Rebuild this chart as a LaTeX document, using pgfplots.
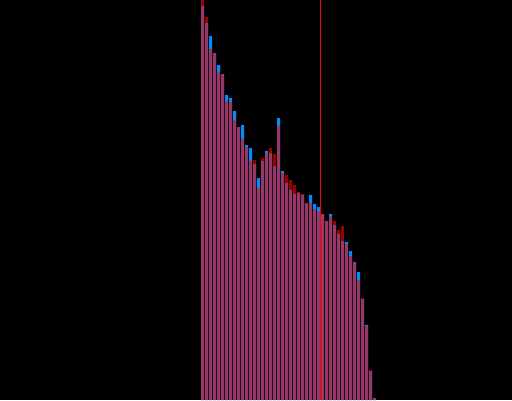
\documentclass[border=0pt]{standalone}
\usepackage{pgfplots}
\pgfplotsset{compat=1.18}
\definecolor{barblue}{RGB}{0,140,255}

\pgfplotstableread{
k red blue
0 400 394
1 383 377
2 351 364
3 347 347
4 328 335
5 326 326
6 299 305
7 298 302
8 280 289
9 273 273
10 261 275
11 253 255
12 239 252
13 240 236
14 212 222
15 242 239
16 247 249
17 252 247
18 246 234
19 274 282
20 227 229
21 225 217
22 220 210
23 215 206
24 208 207
25 206 205
26 197 197
27 197 205
28 191 196
29 189 193
30 186 186
31 179 179
32 184 186
33 179 175
34 170 166
35 174 159
36 156 158
37 144 149
38 138 138
39 120 128
40 102 101
41 74 75
42 30 29
43 2 2
}\hist

\begin{document}
\begin{tikzpicture}
\begin{axis}[
  width=512pt, height=400pt, scale only axis,
  axis background/.style={fill=black},
  axis line style={draw=none},
  xtick=\empty, ytick=\empty,
  xmin=-50.625, xmax=77.375,
  ymin=0, ymax=400,
  ybar, bar width=0.75, bar shift=0pt,
]
  \addplot[fill=barblue, draw=none] table[x=k, y=blue] {\hist};
  \addplot[fill=red, fill opacity=0.6, draw=none] table[x=k, y=red] {\hist};
  \addplot[red, line width=1pt, sharp plot] coordinates {(29.5,0) (29.5,400)};
\end{axis}
\end{tikzpicture}
\end{document}
